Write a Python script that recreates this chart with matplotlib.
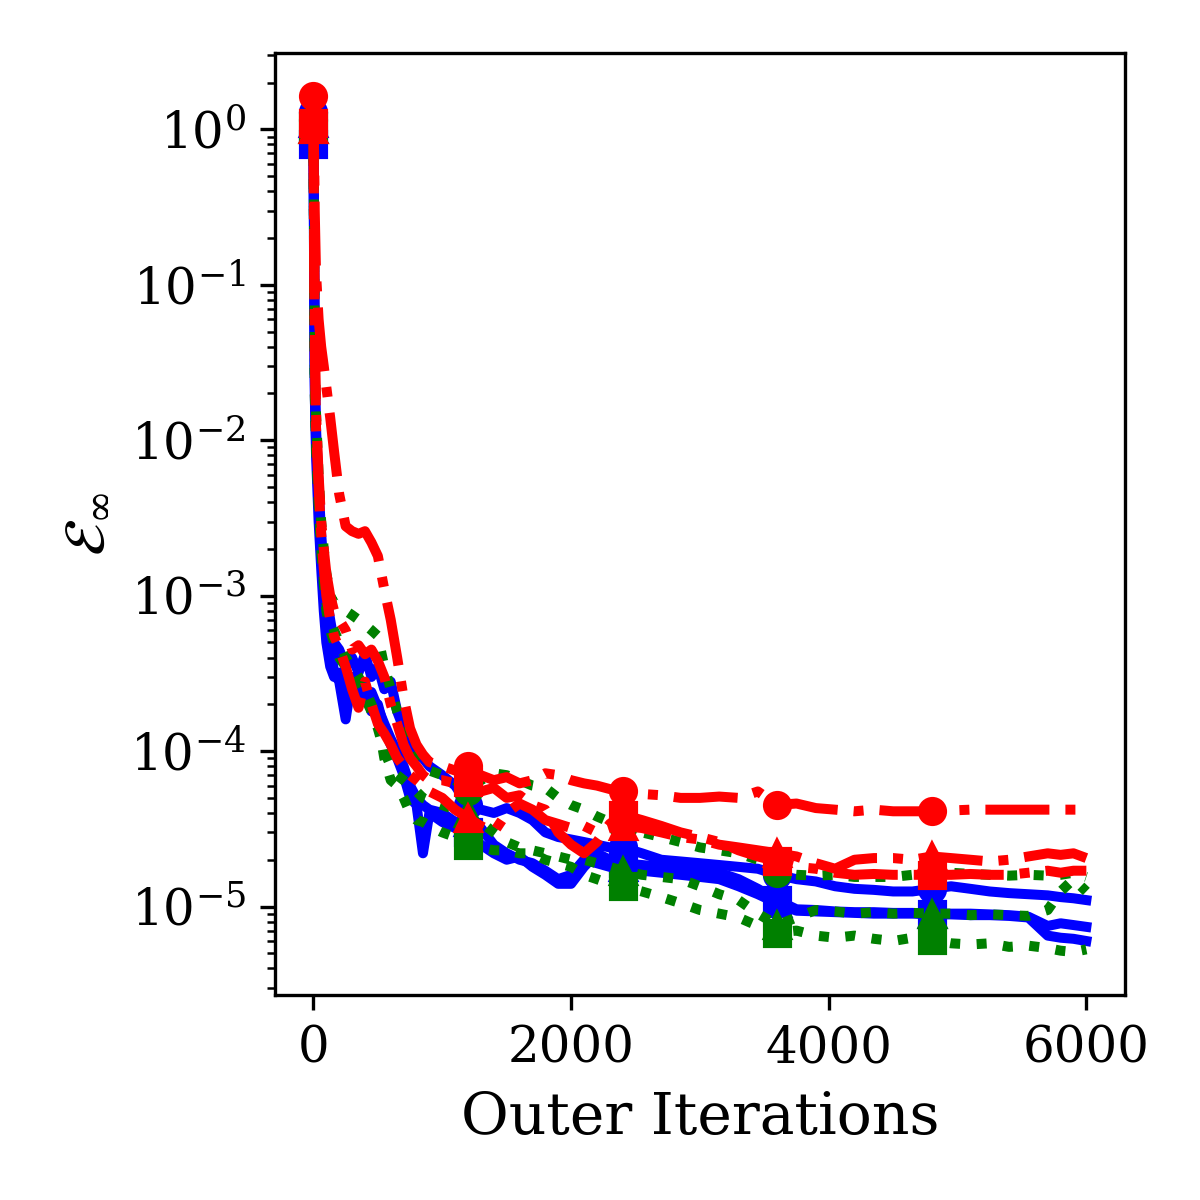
import matplotlib
matplotlib.use('Agg')
import matplotlib.pyplot as plt

plt.rcParams['font.family'] = 'serif'
plt.rcParams['font.serif'] = ['DejaVu Serif']
plt.rcParams['mathtext.fontset'] = 'dejavuserif'

# outer iterations (x) shared by all runs
iters = [0, 10, 20, 40, 60, 80, 100, 130, 160, 200, 250, 300, 350, 400, 450, 500,
         550, 600, 650, 700, 750, 800, 850, 900, 1000, 1100, 1200, 1300, 1400, 1500,
         1600, 1700, 1800, 1900, 2000, 2100, 2200, 2300, 2400, 2550, 2700, 2850, 3000,
         3150, 3300, 3450, 3600, 3750, 3900, 4050, 4200, 4350, 4500, 4650, 4800, 4950,
         5100, 5250, 5400, 5550, 5700, 5800, 5900, 6000]

# blue, solid
blue_circ = [1.3, 3e-2, 1.2e-2, 5e-3, 2.5e-3, 1.5e-3, 1.0e-3, 7e-4, 5e-4, 4.5e-4, 3.5e-4, 4.0e-4,
             3.2e-4, 4.2e-4, 3.0e-4, 3.5e-4, 2.5e-4, 2.8e-4, 1.8e-4, 1.4e-4, 1.1e-4, 9.5e-5,
             9e-5, 8e-5, 7e-5, 6e-5, 4.5e-5, 4.2e-5, 4.0e-5, 4.3e-5, 4.0e-5, 3.6e-5, 3.0e-5,
             2.8e-5, 2.7e-5, 2.6e-5, 2.5e-5, 2.4e-5, 2.4e-5, 2.2e-5, 2.0e-5, 1.95e-5, 1.9e-5,
             1.85e-5, 1.8e-5, 1.75e-5, 1.6e-5, 1.5e-5, 1.45e-5, 1.35e-5, 1.3e-5, 1.28e-5,
             1.25e-5, 1.25e-5, 1.3e-5, 1.35e-5, 1.3e-5, 1.25e-5, 1.22e-5, 1.2e-5, 1.18e-5,
             1.15e-5, 1.13e-5, 1.1e-5]
blue_sq = [0.8, 2e-2, 8e-3, 3e-3, 1.5e-3, 8e-4, 5e-4, 3.5e-4, 3e-4, 3.2e-4, 2.5e-4, 3.0e-4,
           2.2e-4, 2.6e-4, 1.8e-4, 2.0e-4, 1.4e-4, 1.1e-4, 9e-5, 7e-5, 5e-5, 4.5e-5, 2.2e-5,
           4.0e-5, 3.5e-5, 3.2e-5, 3.0e-5, 2.5e-5, 2.2e-5, 2.0e-5, 2.1e-5, 1.8e-5, 1.6e-5,
           1.4e-5, 1.4e-5, 1.8e-5, 2.2e-5, 2.0e-5, 1.9e-5, 1.85e-5, 1.8e-5, 1.75e-5, 1.7e-5,
           1.65e-5, 1.5e-5, 1.3e-5, 1.1e-5, 9.6e-6, 9.5e-6, 9.3e-6, 9.2e-6, 9.2e-6, 9.1e-6,
           9.1e-6, 9.0e-6, 9.0e-6, 9.0e-6, 8.9e-6, 8.8e-6, 8.6e-6, 7.5e-6, 7.8e-6, 7.6e-6,
           7.4e-6]
blue_tri = [1.1, 2.5e-2, 1.0e-2, 4e-3, 2e-3, 1.2e-3, 7e-4, 5e-4, 3.2e-4, 2.8e-4, 1.6e-4, 3.0e-4,
            2.6e-4, 2.2e-4, 2.4e-4, 1.9e-4, 1.5e-4, 1.2e-4, 1.0e-4, 8e-5, 6e-5, 5e-5, 4.5e-5,
            4.2e-5, 4.0e-5, 3.5e-5, 3.5e-5, 3.2e-5, 2.5e-5, 2.2e-5, 2.0e-5, 1.9e-5, 1.7e-5,
            1.5e-5, 1.6e-5, 2.0e-5, 1.9e-5, 1.8e-5, 1.8e-5, 1.7e-5, 1.65e-5, 1.6e-5, 1.55e-5,
            1.5e-5, 1.35e-5, 1.2e-5, 1.05e-5, 9.4e-6, 9.3e-6, 9.2e-6, 9.1e-6, 9.0e-6, 9.0e-6,
            9.0e-6, 8.9e-6, 8.9e-6, 8.8e-6, 8.8e-6, 8.7e-6, 8.5e-6, 6.5e-6, 6.3e-6, 6.2e-6,
            6.0e-6]

# green, dotted
green_circ = [1.15, 3.5e-2, 1.5e-2, 6e-3, 3e-3, 2e-3, 1.4e-3, 1.0e-3, 9e-4, 9e-4, 8e-4, 7.5e-4,
              7e-4, 6.5e-4, 6e-4, 5.5e-4, 3.5e-4, 2.5e-4, 1.8e-4, 1.4e-4, 1.1e-4, 9e-5, 8e-5,
              7.5e-5, 7e-5, 6.5e-5, 5.5e-5, 6.5e-5, 7.2e-5, 7e-5, 6.5e-5, 6e-5, 5.8e-5, 5.0e-5,
              4.5e-5, 4.2e-5, 3.8e-5, 3.5e-5, 3.3e-5, 3.0e-5, 2.8e-5, 2.6e-5, 2.4e-5, 2.3e-5,
              2.2e-5, 2.0e-5, 1.65e-5, 1.6e-5, 1.58e-5, 1.6e-5, 1.55e-5, 1.55e-5, 1.55e-5,
              1.6e-5, 1.7e-5, 1.65e-5, 1.62e-5, 1.6e-5, 1.58e-5, 1.6e-5, 1.58e-5, 1.6e-5,
              1.65e-5, 1.55e-5]
green_sq = [1.05, 2.5e-2, 1e-2, 4e-3, 2e-3, 1.3e-3, 9e-4, 7e-4, 6e-4, 5e-4, 4e-4, 3.5e-4, 3e-4,
            2.5e-4, 2e-4, 1.6e-4, 9e-5, 6.5e-5, 6e-5, 5e-5, 4e-5, 3.6e-5, 3.5e-5, 3.3e-5,
            3.0e-5, 2.8e-5, 2.5e-5, 2.4e-5, 2.3e-5, 2.3e-5, 2.2e-5, 2.2e-5, 2.0e-5, 1.9e-5,
            1.8e-5, 1.6e-5, 1.5e-5, 1.4e-5, 1.35e-5, 1.25e-5, 1.15e-5, 1.05e-5, 9.5e-6, 9e-6,
            8.5e-6, 7.5e-6, 6.8e-6, 7.0e-6, 6.5e-6, 6.3e-6, 6.5e-6, 6.2e-6, 6.0e-6, 6.3e-6,
            6.1e-6, 5.8e-6, 5.7e-6, 5.8e-6, 5.5e-6, 5.6e-6, 5.4e-6, 5.2e-6, 5.1e-6, 5.3e-6]
green_tri = [1.0, 2e-2, 9e-3, 4e-3, 2e-3, 1.2e-3, 8e-4, 6e-4, 5e-4, 4e-4, 3.5e-4, 3e-4, 2.5e-4,
             2.2e-4, 1.8e-4, 1.4e-4, 1.0e-4, 8e-5, 7e-5, 6.5e-5, 6e-5, 5.5e-5, 5e-5, 4.8e-5,
             4.5e-5, 4.2e-5, 4.0e-5, 3.5e-5, 3.0e-5, 2.6e-5, 2.4e-5, 2.3e-5, 2.2e-5, 2.1e-5,
             2.0e-5, 2.0e-5, 1.9e-5, 1.8e-5, 1.7e-5, 1.6e-5, 1.55e-5, 1.5e-5, 1.35e-5, 1.2e-5,
             1.1e-5, 9e-6, 7.6e-6, 8.5e-6, 9.5e-6, 9.3e-6, 9.0e-6, 9.2e-6, 9.0e-6, 9.1e-6,
             9.0e-6, 9.0e-6, 8.8e-6, 8.9e-6, 8.8e-6, 8.7e-6, 9.5e-6, 1.25e-5, 1.5e-5, 1.25e-5]

# red, dash-dot
red_circ = [1.65, 3e-1, 1.2e-1, 6e-2, 4e-2, 3e-2, 2.2e-2, 1.4e-2, 8.5e-3, 4.5e-3, 2.8e-3, 2.6e-3,
            2.5e-3, 2.6e-3, 2.2e-3, 1.8e-3, 1.1e-3, 7e-4, 4e-4, 2.2e-4, 1.4e-4, 1.1e-4, 9.5e-5,
            8.5e-5, 8e-5, 7.5e-5, 8e-5, 7e-5, 6.5e-5, 6.8e-5, 6.2e-5, 6.5e-5, 7.2e-5, 7e-5,
            6.5e-5, 6.2e-5, 6e-5, 5.7e-5, 5.5e-5, 5.3e-5, 5.2e-5, 5.0e-5, 5.0e-5, 5.1e-5,
            5.0e-5, 5.5e-5, 4.5e-5, 4.6e-5, 4.3e-5, 4.2e-5, 4.1e-5, 4.2e-5, 4.1e-5, 4.1e-5,
            4.1e-5, 4.15e-5, 4.2e-5, 4.2e-5, 4.2e-5, 4.2e-5, 4.2e-5, 4.2e-5, 4.2e-5, 4.2e-5]
red_sq = [1.1, 5e-2, 1.5e-2, 6e-3, 3e-3, 2e-3, 1.4e-3, 1.0e-3, 8e-4, 7e-4, 6e-4, 4.5e-4, 4.8e-4,
          4.2e-4, 4.5e-4, 3.8e-4, 3e-4, 2e-4, 1.5e-4, 1.1e-4, 9e-5, 8e-5, 7e-5, 6.5e-5, 6.5e-5,
          6.2e-5, 6.3e-5, 5.5e-5, 5.8e-5, 5.0e-5, 5.2e-5, 4.5e-5, 4.2e-5, 3.0e-5, 2.5e-5,
          2.2e-5, 2.6e-5, 3.4e-5, 3.9e-5, 3.6e-5, 3.3e-5, 3.0e-5, 2.8e-5, 2.6e-5, 2.3e-5,
          2.1e-5, 1.95e-5, 1.8e-5, 1.75e-5, 1.65e-5, 1.6e-5, 1.62e-5, 1.6e-5, 1.6e-5, 1.6e-5,
          1.6e-5, 1.62e-5, 1.6e-5, 1.6e-5, 1.65e-5, 1.7e-5, 1.65e-5, 1.7e-5, 1.7e-5]
red_tri = [1.0, 4e-2, 1.2e-2, 5e-3, 2.5e-3, 1.5e-3, 1.0e-3, 7e-4, 5.5e-4, 4.6e-4, 3.5e-4, 2.5e-4,
           1.9e-4, 2.8e-4, 2.0e-4, 1.5e-4, 1.3e-4, 1.1e-4, 9e-5, 8e-5, 7e-5, 6.5e-5, 6e-5,
           5.5e-5, 5e-5, 4.2e-5, 3.7e-5, 3.3e-5, 3.0e-5, 4.0e-5, 4.6e-5, 4.2e-5, 3.6e-5,
           3.4e-5, 3.2e-5, 3.3e-5, 3.0e-5, 3.2e-5, 3.3e-5, 3.2e-5, 3.0e-5, 2.8e-5, 2.7e-5,
           2.5e-5, 2.4e-5, 2.3e-5, 2.2e-5, 2.1e-5, 1.9e-5, 1.75e-5, 2.0e-5, 2.05e-5, 2.05e-5,
           2.0e-5, 2.1e-5, 2.05e-5, 2.0e-5, 1.95e-5, 2.0e-5, 2.1e-5, 2.2e-5, 2.15e-5, 2.2e-5,
           2.05e-5]

# marker every 1200 outer iterations (last point has none)
mark_idx = [iters.index(v) for v in range(0, 6000, 1200)]

runs = [
    (blue_circ, 'b', '-', 'o'),
    (blue_sq, 'b', '-', 's'),
    (blue_tri, 'b', '-', '^'),
    (green_circ, 'g', ':', 'o'),
    (green_sq, 'g', ':', 's'),
    (green_tri, 'g', ':', '^'),
    (red_circ, 'r', '-.', 'o'),
    (red_sq, 'r', '-.', 's'),
    (red_tri, 'r', '-.', '^'),
]

fig, ax = plt.subplots(figsize=(4, 4), dpi=300)
for vals, c, ls, m in runs:
    ax.plot(iters, vals, color=c, linestyle=ls, linewidth=2.4,
            marker=m, markersize=6, markevery=mark_idx)

ax.set_yscale('log')
ax.set_xticks([0, 2000, 4000, 6000])
ax.set_xlabel('Outer Iterations', fontsize=14)
ax.set_ylabel(r'$\mathcal{E}_\infty$', fontsize=14)
ax.tick_params(labelsize=12)
fig.subplots_adjust(left=0.229, right=0.9375, bottom=0.171, top=0.956)
fig.savefig('out.png', dpi=300)
